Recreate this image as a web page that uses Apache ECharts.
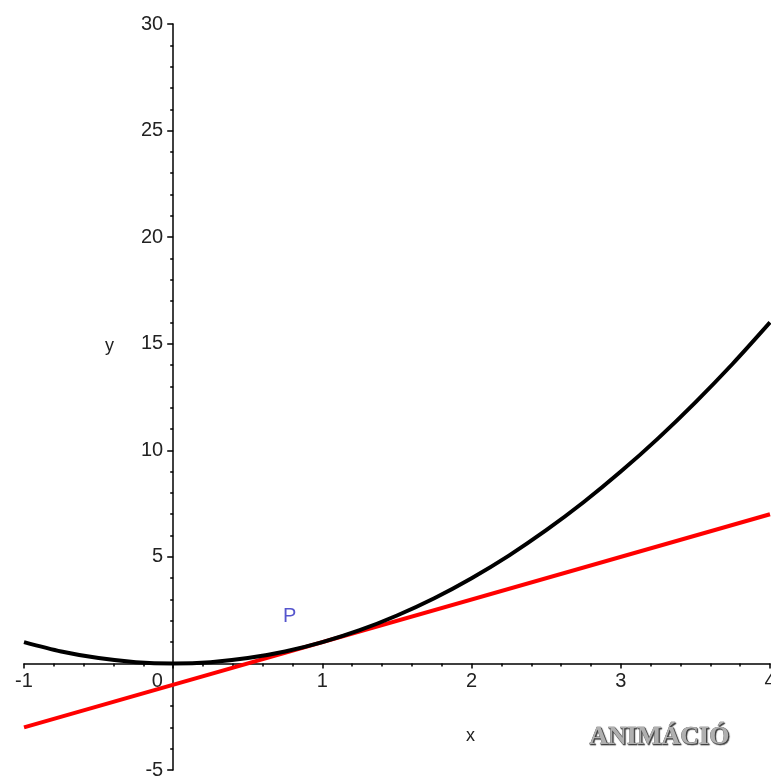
<!DOCTYPE html>
<html><head><meta charset="utf-8">
<script src="https://cdn.jsdelivr.net/npm/echarts@6/dist/echarts.min.js"></script>
<style>html,body{margin:0;padding:0;background:#fff}#c{width:771px;height:778px}</style>
</head><body><div id="c"></div>
<script>
const curveX = [-1,-0.75,-0.5,-0.25,0,0.25,0.5,0.75,1,1.25,1.5,1.75,2,2.25,2.5,2.75,3,3.25,3.5,3.75,4];
const curveY = [1,0.56,0.25,0.06,0,0.06,0.25,0.56,1,1.56,2.25,3.06,4,5.06,6.25,7.56,9,10.56,12.25,14.06,16];
const tangentX = [-1,4];
const tangentY = [-3,7];
const pointLabel = {text:'P', x:0.78, y:2.2};
const xTicks = {min:-1, max:4, interval:1};
const yTicks = {min:-5, max:30, interval:5};

const G = {left:24, right:1, top:24, bottom:8};
const W = 771 - G.left - G.right, H = 778 - G.top - G.bottom;
// shift axes so they pass through the origin
const xOff = -((0 - yTicks.min) / (yTicks.max - yTicks.min)) * H;
const yOff = -((0 - xTicks.min) / (xTicks.max - xTicks.min)) * W;

const chart = echarts.init(document.getElementById('c'), null, {renderer:'canvas'});
const fontFam = 'Liberation Sans, Arial, sans-serif';
chart.setOption({
  animation:false,
  backgroundColor:'#fff',
  grid:{left:G.left, right:G.right, top:G.top, bottom:G.bottom, containLabel:false, outerBoundsMode:'none'},
  xAxis:{type:'value', min:xTicks.min, max:xTicks.max, interval:xTicks.interval, offset:xOff,
    axisLine:{onZero:false, lineStyle:{color:'#000', width:1.5}},
    axisTick:{show:true, length:5, lineStyle:{color:'#000', width:1.5}},
    minorTick:{show:true, splitNumber:5, length:3, lineStyle:{color:'#000', width:1.5}},
    splitLine:{show:false},
    axisLabel:{color:'#222', fontSize:20, fontFamily:fontFam, margin:8, hideOverlap:false,
      formatter:v=> v===0 ? '{z|0}' : String(v),
      rich:{z:{fontSize:20, fontFamily:fontFam, color:'#222', padding:[0,32,0,0]}}}
  },
  yAxis:{type:'value', min:yTicks.min, max:yTicks.max, interval:yTicks.interval, offset:yOff,
    axisLine:{onZero:false, lineStyle:{color:'#000', width:1.5}},
    axisTick:{show:true, length:6, lineStyle:{color:'#000', width:1.5}},
    minorTick:{show:true, splitNumber:5, length:3, lineStyle:{color:'#000', width:1.5}},
    splitLine:{show:false},
    axisLabel:{color:'#222', fontSize:20, fontFamily:fontFam, margin:10, hideOverlap:false,
      formatter:v=> v===0 ? '' : String(v)}
  },
  series:[
    {type:'line', data:tangentX.map((x,i)=>[x,tangentY[i]]), symbol:'none',
     lineStyle:{color:'#ff0000', width:4}, z:2},
    {type:'line', data:curveX.map((x,i)=>[x,curveY[i]]), symbol:'none', smooth:0.3,
     lineStyle:{color:'#000', width:4}, z:3},
    {type:'scatter', data:[[pointLabel.x, pointLabel.y]], symbolSize:0,
     label:{show:true, formatter:pointLabel.text, position:'inside', color:'#2a2ac0', fontSize:20, fontFamily:fontFam}, z:4}
  ],
  graphic:[
    {type:'text', left:466, top:727, style:{text:'x', fontSize:18, fontFamily:fontFam, fill:'#222'}},
    {type:'text', left:105, top:337, style:{text:'y', fontSize:18, fontFamily:fontFam, fill:'#222'}},
    {type:'text', left:589, top:724, style:{text:'ANIMÁCIÓ', fontSize:26, fontWeight:'bold',
      fontFamily:'Liberation Serif, Times New Roman, serif', fill:'#b0b0b0',
      stroke:'#555', lineWidth:0.6, textShadowColor:'#333', textShadowOffsetX:1, textShadowOffsetY:1, textShadowBlur:1}}
  ]
});
</script></body></html>
